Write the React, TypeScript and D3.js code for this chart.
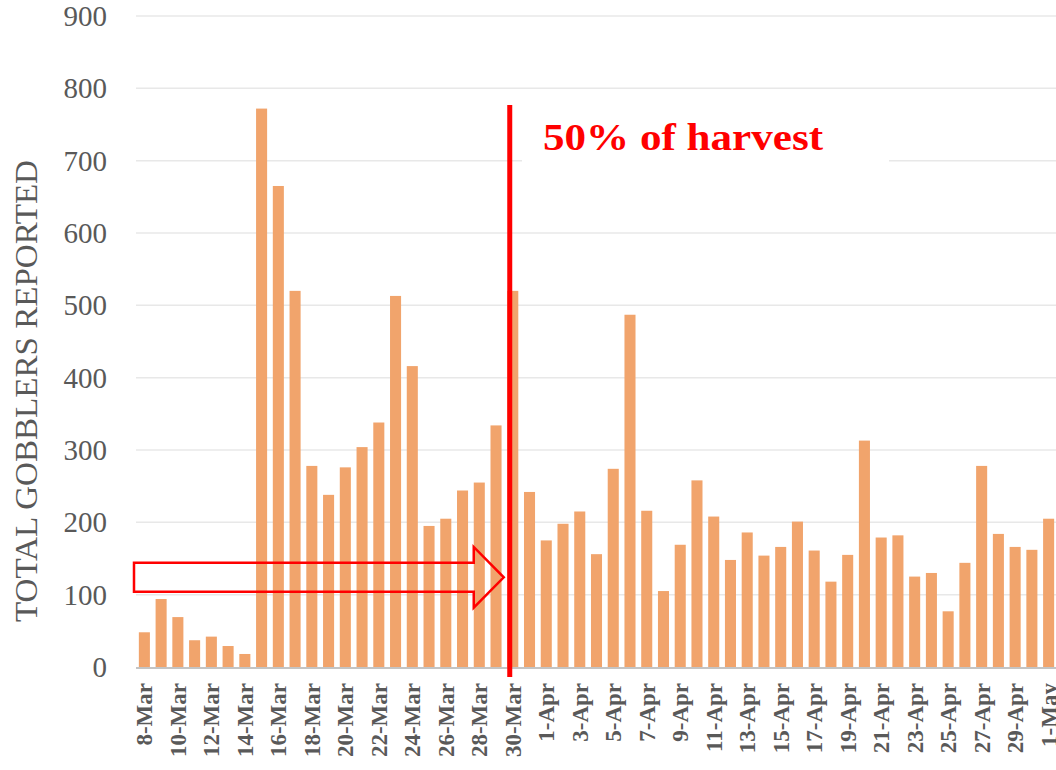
import React from "react";
import * as d3 from "d3";

// daily totals, 8-Mar through 1-May
const dates = [
  "8-Mar", "9-Mar", "10-Mar", "11-Mar", "12-Mar", "13-Mar", "14-Mar", "15-Mar",
  "16-Mar", "17-Mar", "18-Mar", "19-Mar", "20-Mar", "21-Mar", "22-Mar", "23-Mar",
  "24-Mar", "25-Mar", "26-Mar", "27-Mar", "28-Mar", "29-Mar", "30-Mar", "31-Mar",
  "1-Apr", "2-Apr", "3-Apr", "4-Apr", "5-Apr", "6-Apr", "7-Apr", "8-Apr",
  "9-Apr", "10-Apr", "11-Apr", "12-Apr", "13-Apr", "14-Apr", "15-Apr", "16-Apr",
  "17-Apr", "18-Apr", "19-Apr", "20-Apr", "21-Apr", "22-Apr", "23-Apr", "24-Apr",
  "25-Apr", "26-Apr", "27-Apr", "28-Apr", "29-Apr", "30-Apr", "1-May",
];

const marchValues = [48, 94, 69, 37, 42, 29, 18, 772, 665, 520, 278, 238, 276, 304, 338, 513, 416, 195, 205, 244, 255, 334, 520, 242];
const aprilValues = [175, 198, 215, 156, 274, 487, 216, 105, 169, 258, 208, 148, 186, 154, 166, 201, 161, 118, 155, 313, 179, 182, 125, 130, 77, 144, 278, 184, 166, 162];
const mayValues = [205];

const yTicks = [0, 100, 200, 300, 400, 500, 600, 700, 800, 900];

// annotation: the 50% mark and the arrow pointing at it
const halfwayDate = "30-Mar";
const arrowShaft = [104, 144];
const arrowHead = [82, 166];
const arrowTip = 124;

const values = [...marchValues, ...aprilValues, ...mayValues];
const data = dates.map((d, i) => ({ date: d, value: values[i] }));

const width = 1056;
const height = 770;
const gray = "#595959";

export default function App() {
  const x = d3.scaleBand<string>()
    .domain(dates)
    .range([136, 1057])
    .paddingInner(0.34)
    .paddingOuter(0.17);

  const y = d3.scaleLinear().domain([0, 900]).range([667, 16]);

  const redX = (x(halfwayDate) as number) + 2.5;
  const tipX = redX - 6;
  const headX = redX - 36;
  const arrowPath = [
    [134, y(arrowShaft[1])],
    [headX, y(arrowShaft[1])],
    [headX, y(arrowHead[1])],
    [tipX, y(arrowTip)],
    [headX, y(arrowHead[0])],
    [headX, y(arrowShaft[0])],
    [134, y(arrowShaft[0])],
  ];
  const line = d3.line();

  return (
    <svg width={width} height={height} style={{ position: "absolute", left: 0, top: 0, background: "#fff" }}>
      {yTicks.map(t => (
        <g key={t}>
          {t > 0 && (
            <line x1={136} x2={width} y1={y(t)} y2={y(t)} stroke="#e8e8e8" strokeWidth={1.5} />
          )}
          <text
            x={107}
            y={y(t)}
            dy="0.35em"
            textAnchor="end"
            fill={gray}
            fontSize={29}
            fontFamily="Liberation Serif, serif"
          >
            {t}
          </text>
        </g>
      ))}

      <text
        transform={`translate(37, 391) rotate(-90)`}
        textAnchor="middle"
        fill={gray}
        fontSize={31}
        fontFamily="Liberation Serif, serif"
        textLength={462}
        lengthAdjust="spacingAndGlyphs"
      >
        TOTAL GOBBLERS REPORTED
      </text>

      {/* white box behind the label */}
      <rect x={522} y={96} width={367} height={70} fill="#fff" />

      {data.map(d => (
        <rect
          key={d.date}
          x={x(d.date)}
          y={y(d.value)}
          width={x.bandwidth()}
          height={y(0) - y(d.value)}
          fill="#f1a46c"
        />
      ))}

      <path d={(line as any)(arrowPath) + "Z"} fill="none" stroke="#ff0000" strokeWidth={2.5} />

      <line x1={136} x2={width} y1={y(0) + 1} y2={y(0) + 1} stroke="#c4c4c4" strokeWidth={2} />

      <line x1={redX} x2={redX} y1={y(777)} y2={y(0) + 10} stroke="#ff0000" strokeWidth={5} />

      <text
        x={543}
        y={150}
        fill="#ff0000"
        fontSize={38}
        fontWeight="bold"
        fontFamily="Liberation Serif, serif"
        textLength={280}
        lengthAdjust="spacingAndGlyphs"
      >
        50% of harvest
      </text>

      {dates.filter((_, i) => i % 2 === 0).map(d => (
        <text
          key={d}
          transform={`translate(${(x(d) as number) + x.bandwidth() / 2 + 8}, 683) rotate(-90)`}
          textAnchor="end"
          fill={gray}
          fontSize={23}
          fontWeight="bold"
          fontFamily="Liberation Serif, serif"
        >
          {d}
        </text>
      ))}
    </svg>
  );
}
